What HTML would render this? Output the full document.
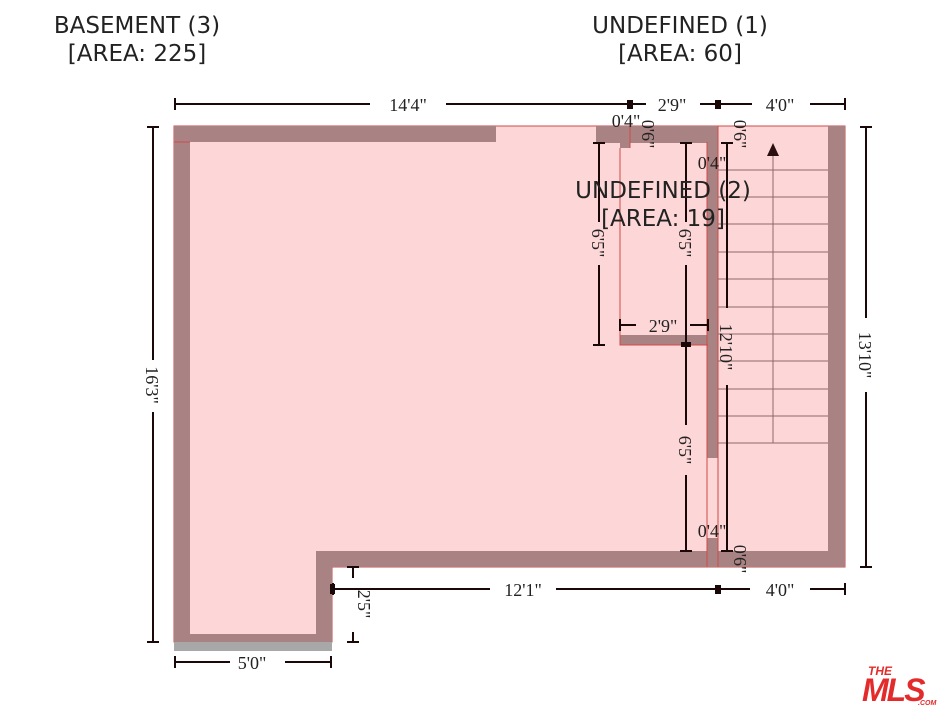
<!DOCTYPE html>
<html><head><meta charset="utf-8"><style>
html,body{margin:0;padding:0;background:#fff;width:942px;height:720px;overflow:hidden}
svg{display:block}
.t{font-family:"DejaVu Sans",sans-serif;font-size:23px;fill:#222}
.d{font-family:"Liberation Serif",serif;font-size:18px;fill:#222}
</style></head><body>
<svg width="942" height="720" viewBox="0 0 942 720" xmlns="http://www.w3.org/2000/svg">
<path d="M174 126 H845 V567 H332 V642 H174 Z" fill="#fdd7d7" stroke="#d04848" stroke-width="1"/>
<g fill="#a98383">
<rect x="174" y="126" width="16" height="516"/>
<rect x="174" y="126" width="322" height="16"/>
<rect x="596" y="126" width="122" height="17"/>
<rect x="620" y="143" width="10" height="5"/>
<rect x="828" y="126" width="17" height="441"/>
<rect x="316" y="551" width="529" height="16"/>
<rect x="316" y="551" width="16" height="91"/>
<rect x="174" y="634" width="158" height="8"/>
<rect x="620" y="335" width="88" height="10"/>
<rect x="707" y="142" width="11" height="316"/>
<rect x="707" y="538" width="11" height="13"/>
</g>
<rect x="174" y="642" width="158" height="9" fill="#a8a8a8"/>
<g stroke="#d04848" stroke-width="1" fill="none">
<path d="M620 148 V345 H708"/>
<path d="M707 142 V567"/><path d="M718 126 V567"/>
<path d="M630 126 V148"/>
<path d="M174 142 H190"/>
</g>
<g stroke="#8a6a6a" stroke-width="1">
<line x1="718" y1="170" x2="828" y2="170"/><line x1="718" y1="197" x2="828" y2="197"/>
<line x1="718" y1="224" x2="828" y2="224"/><line x1="718" y1="252" x2="828" y2="252"/>
<line x1="718" y1="279" x2="828" y2="279"/><line x1="718" y1="307" x2="828" y2="307"/>
<line x1="718" y1="334" x2="828" y2="334"/><line x1="718" y1="361" x2="828" y2="361"/>
<line x1="718" y1="389" x2="828" y2="389"/><line x1="718" y1="416" x2="828" y2="416"/>
<line x1="718" y1="443" x2="828" y2="443"/>
<line x1="773" y1="443" x2="773" y2="155"/>
</g>
<polygon points="773,143 767,156 779,156" fill="#2a1010"/>
<g stroke="#1a0808" stroke-width="2" fill="none">
<path d="M175 104 H370 M446 104 H630 M630 104 H646 M700 104 H718 M718 104 H752 M810 104 H845"/>
<path d="M175 98 V110 M845 98 V110"/>
<path d="M153 127 V360 M153 412 V642 M147 127 H159 M147 642 H159"/>
<path d="M866 127 V318 M866 392 V567 M860 127 H872 M860 567 H872"/>
<path d="M333 589 H490 M556 589 H718 M718 589 H750 M810 589 H845 M333 583 V595 M845 583 V595"/>
<path d="M175 662 H230 M285 662 H331 M175 656 V668 M331 656 V668"/>
<path d="M353 567 V578 M353 632 V642 M347 567 H359 M347 642 H359"/>
<path d="M599 143 V222 M599 265 V345 M593 143 H605 M593 345 H605"/>
<path d="M686 143 V222 M686 265 V345 M680 143 H692"/>
<path d="M686 345 V425 M686 475 V551 M680 551 H692"/>
<path d="M727 143 V308 M727 385 V551 M721 143 H733 M721 551 H733"/>
<path d="M620 325 H636 M690 325 H708 M620 319 V331 M708 319 V331"/>
</g>
<g fill="#1a0808"><rect x="627" y="100" width="6" height="9"/><rect x="715" y="100" width="6" height="9"/><rect x="715" y="585" width="6" height="9"/><rect x="681" y="342" width="10" height="5"/><rect x="330" y="584" width="5" height="10"/></g>
<g class="d">
<text x="408" y="111" text-anchor="middle">14'4"</text>
<text x="672" y="111" text-anchor="middle">2'9"</text>
<text x="780" y="111" text-anchor="middle">4'0"</text>
<text x="523" y="596" text-anchor="middle">12'1"</text>
<text x="780" y="596" text-anchor="middle">4'0"</text>
<text x="252" y="669" text-anchor="middle">5'0"</text>
<text x="663" y="332" text-anchor="middle">2'9"</text>
<text x="626" y="127" text-anchor="middle">0'4"</text>
<text x="712" y="169" text-anchor="middle">0'4"</text>
<text x="712" y="537" text-anchor="middle">0'4"</text>
<text transform="translate(146,385) rotate(90)" text-anchor="middle">16'3"</text>
<text transform="translate(859,355) rotate(90)" text-anchor="middle">13'10"</text>
<text transform="translate(358,604) rotate(90)" text-anchor="middle">2'5"</text>
<text transform="translate(592,243) rotate(90)" text-anchor="middle">6'5"</text>
<text transform="translate(679,243) rotate(90)" text-anchor="middle">6'5"</text>
<text transform="translate(679,450) rotate(90)" text-anchor="middle">6'5"</text>
<text transform="translate(720,347) rotate(90)" text-anchor="middle">12'10"</text>
<text transform="translate(642,134) rotate(90)" text-anchor="middle">0'6"</text>
<text transform="translate(734,134) rotate(90)" text-anchor="middle">0'6"</text>
<text transform="translate(734,559) rotate(90)" text-anchor="middle">0'6"</text>
</g>
<g class="t" text-anchor="middle">
<text x="137" y="33">BASEMENT (3)</text>
<text x="137" y="61">[AREA: 225]</text>
<text x="680" y="33">UNDEFINED (1)</text>
<text x="680" y="61">[AREA: 60]</text>
<text x="663" y="198">UNDEFINED (2)</text>
<text x="663" y="226">[AREA: 19]</text>
</g>
<g fill="#e32b2b" font-family="Liberation Sans,sans-serif" font-weight="bold" font-style="italic">
<text x="868" y="675" font-size="12">THE</text>
<text x="862" y="701" font-size="32" letter-spacing="-2">MLS</text>
<text x="918" y="705" font-size="7">.COM</text>
</g>
</svg>
</body></html>
